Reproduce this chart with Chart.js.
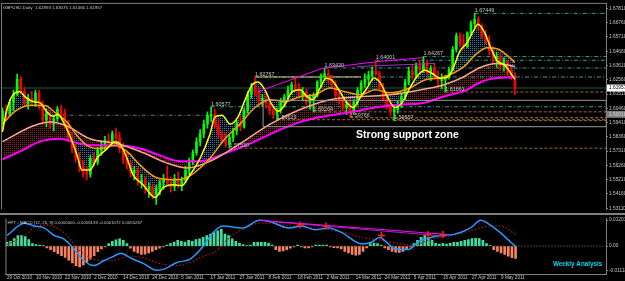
<!DOCTYPE html>
<html>
<head>
<meta charset="utf-8">
<script src="https://cdn.jsdelivr.net/npm/chart.js@4.4.1/dist/chart.umd.min.js"></script>
<style>
  html, body { margin: 0; padding: 0; background: #000; }
  #wrap { position: relative; width: 625px; height: 281px; background: #000; overflow: hidden; }
  #price { position: absolute; left: 0; top: 0; }
  #macd { position: absolute; left: 0; top: 213px; }
</style>
</head>
<body>
<div id="wrap">
  <canvas id="price" width="625" height="213"></canvas>
  <canvas id="macd" width="625" height="68"></canvas>
</div>
<script>
/* GBPUSD daily + HPT MACD (bar index 0 = 29 Oct 2010). */

const dateLabels = ['29 Oct 2010', '10 Nov 2010', '22 Nov 2010', '2 Dec 2010', '14 Dec 2010', '24 Dec 2010',
  '5 Jan 2011', '17 Jan 2011', '27 Jan 2011', '8 Feb 2011', '18 Feb 2011', '2 Mar 2011', '14 Mar 2011',
  '24 Mar 2011', '5 Apr 2011', '15 Apr 2011', '27 Apr 2011', '9 May 2011'];
const dateIdx = [0, 8, 16, 24, 32, 40, 48, 56, 64, 72, 80, 88, 96, 104, 112, 120, 128, 136];

const priceTicks = [1.67810, 1.66760, 1.65710, 1.64660, 1.63610, 1.62560, 1.61510, 1.60460,
  1.59410, 1.58360, 1.57310, 1.56260, 1.55210, 1.54160, 1.53110];
const macdTicks = [0.01201, 0, -0.01118];

const opens = [
  1.5910, 1.6030, 1.6010, 1.6090, 1.6150, 1.6260, 1.6170, 1.6080, 1.6120, 1.6100,
  1.6160, 1.6060, 1.5960, 1.6010, 1.5930, 1.5970, 1.6040, 1.6010, 1.5920, 1.5830,
  1.5750, 1.5680, 1.5620, 1.5580, 1.5560, 1.5680, 1.5650, 1.5740, 1.5770, 1.5810,
  1.5790, 1.5860, 1.5830, 1.5750, 1.5670, 1.5640, 1.5570, 1.5590, 1.5500, 1.5520,
  1.5450, 1.5470, 1.5410, 1.5460, 1.5500, 1.5530, 1.5500, 1.5470, 1.5530, 1.5490,
  1.5520, 1.5590, 1.5660, 1.5720, 1.5800, 1.5860, 1.5930, 1.5990, 1.6000, 1.5920,
  1.5850, 1.5810, 1.5780, 1.5830, 1.5880, 1.5940, 1.5910, 1.6030, 1.6150, 1.6200,
  1.6170, 1.6100, 1.6120, 1.6080, 1.6030, 1.6000, 1.6030, 1.6090, 1.6130, 1.6180,
  1.6220, 1.6200, 1.6140, 1.6170, 1.6090, 1.6120, 1.6140, 1.6240, 1.6280, 1.6300,
  1.6260, 1.6220, 1.6140, 1.6110, 1.6050, 1.6080, 1.6020, 1.6090, 1.6180, 1.6230,
  1.6260, 1.6290, 1.6320, 1.6300, 1.6200, 1.6120, 1.6070, 1.6020, 1.6040, 1.6070,
  1.6130, 1.6240, 1.6320, 1.6290, 1.6360, 1.6330, 1.6380, 1.6310, 1.6340, 1.6280,
  1.6250, 1.6260, 1.6280, 1.6330, 1.6480, 1.6580, 1.6520, 1.6500, 1.6600, 1.6670,
  1.6700, 1.6650, 1.6580, 1.6540, 1.6470, 1.6410, 1.6430, 1.6360, 1.6390, 1.6320, 1.6289];
const highs = [
  1.6050, 1.6070, 1.6110, 1.6180, 1.6298, 1.6280, 1.6200, 1.6150, 1.6170, 1.6180,
  1.6180, 1.6100, 1.6040, 1.6030, 1.5990, 1.6060, 1.6070, 1.6040, 1.5960, 1.5870,
  1.5790, 1.5720, 1.5660, 1.5620, 1.5700, 1.5720, 1.5760, 1.5800, 1.5840, 1.5860,
  1.5880, 1.5900, 1.5870, 1.5790, 1.5720, 1.5660, 1.5620, 1.5610, 1.5560, 1.5540,
  1.5500, 1.5490, 1.5480, 1.5520, 1.5560, 1.5620, 1.5540, 1.5560, 1.5580, 1.5540,
  1.5620, 1.5680, 1.5740, 1.5830, 1.5890, 1.5960, 1.6020, 1.6058, 1.6040, 1.5970,
  1.5880, 1.5860, 1.5850, 1.5900, 1.5960, 1.5990, 1.6050, 1.6170, 1.6230, 1.6277,
  1.6200, 1.6150, 1.6160, 1.6110, 1.6070, 1.6050, 1.6120, 1.6150, 1.6210, 1.6240,
  1.6270, 1.6230, 1.6200, 1.6190, 1.6150, 1.6160, 1.6250, 1.6300, 1.6343, 1.6330,
  1.6290, 1.6250, 1.6190, 1.6130, 1.6100, 1.6110, 1.6110, 1.6200, 1.6250, 1.6300,
  1.6320, 1.6350, 1.6400, 1.6320, 1.6230, 1.6160, 1.6110, 1.6060, 1.6100, 1.6150,
  1.6260, 1.6350, 1.6370, 1.6380, 1.6400, 1.6427, 1.6400, 1.6360, 1.6370, 1.6320,
  1.6300, 1.6290, 1.6350, 1.6500, 1.6600, 1.6600, 1.6590, 1.6610, 1.6690, 1.6745,
  1.6720, 1.6670, 1.6620, 1.6580, 1.6500, 1.6460, 1.6450, 1.6420, 1.6400, 1.6360, 1.6308];
const lows = [
  1.5890, 1.5960, 1.5990, 1.6030, 1.6140, 1.6150, 1.6060, 1.6040, 1.6070, 1.6060,
  1.6040, 1.5930, 1.5910, 1.5900, 1.5880, 1.5950, 1.5990, 1.5900, 1.5800, 1.5720,
  1.5650, 1.5580, 1.5540, 1.5520, 1.5540, 1.5620, 1.5630, 1.5700, 1.5740, 1.5760,
  1.5770, 1.5800, 1.5720, 1.5640, 1.5600, 1.5540, 1.5520, 1.5480, 1.5460, 1.5420,
  1.5390, 1.5380, 1.5340, 1.5410, 1.5450, 1.5490, 1.5430, 1.5440, 1.5460, 1.5440,
  1.5500, 1.5560, 1.5630, 1.5700, 1.5770, 1.5830, 1.5900, 1.5950, 1.5900, 1.5830,
  1.5790, 1.5760, 1.5753, 1.5800, 1.5850, 1.5880, 1.5900, 1.6010, 1.6120, 1.6140,
  1.6070, 1.6060, 1.6050, 1.6000, 1.5970, 1.5962, 1.6010, 1.6060, 1.6100, 1.6150,
  1.6170, 1.6120, 1.6100, 1.6070, 1.6040, 1.6020, 1.6130, 1.6200, 1.6250, 1.6230,
  1.6190, 1.6120, 1.6080, 1.6030, 1.6000, 1.5977, 1.6000, 1.6070, 1.6150, 1.6200,
  1.6220, 1.6250, 1.6290, 1.6180, 1.6100, 1.6040, 1.5990, 1.5956, 1.6010, 1.6050,
  1.6110, 1.6220, 1.6260, 1.6270, 1.6300, 1.6310, 1.6290, 1.6250, 1.6260, 1.6200,
  1.6190, 1.6166, 1.6260, 1.6320, 1.6460, 1.6500, 1.6480, 1.6490, 1.6580, 1.6640,
  1.6620, 1.6560, 1.6520, 1.6440, 1.6380, 1.6350, 1.6330, 1.6320, 1.6290, 1.6260, 1.6147];
const closes = [
  1.6030, 1.6010, 1.6090, 1.6150, 1.6260, 1.6170, 1.6080, 1.6120, 1.6100, 1.6160,
  1.6060, 1.5960, 1.6010, 1.5930, 1.5970, 1.6040, 1.6010, 1.5920, 1.5830, 1.5750,
  1.5680, 1.5620, 1.5580, 1.5560, 1.5680, 1.5650, 1.5740, 1.5770, 1.5810, 1.5790,
  1.5860, 1.5830, 1.5750, 1.5670, 1.5640, 1.5570, 1.5590, 1.5500, 1.5520, 1.5450,
  1.5470, 1.5410, 1.5460, 1.5500, 1.5530, 1.5500, 1.5470, 1.5530, 1.5490, 1.5520,
  1.5590, 1.5660, 1.5720, 1.5800, 1.5860, 1.5930, 1.5990, 1.6000, 1.5920, 1.5850,
  1.5810, 1.5780, 1.5830, 1.5880, 1.5940, 1.5910, 1.6030, 1.6150, 1.6200, 1.6170,
  1.6100, 1.6120, 1.6080, 1.6030, 1.6000, 1.6030, 1.6090, 1.6130, 1.6180, 1.6220,
  1.6200, 1.6140, 1.6170, 1.6090, 1.6120, 1.6140, 1.6240, 1.6280, 1.6300, 1.6260,
  1.6220, 1.6140, 1.6110, 1.6050, 1.6080, 1.6020, 1.6090, 1.6180, 1.6230, 1.6260,
  1.6290, 1.6320, 1.6300, 1.6200, 1.6120, 1.6070, 1.6020, 1.6040, 1.6070, 1.6130,
  1.6240, 1.6320, 1.6290, 1.6360, 1.6330, 1.6380, 1.6310, 1.6340, 1.6280, 1.6250,
  1.6260, 1.6280, 1.6330, 1.6480, 1.6580, 1.6520, 1.6500, 1.6600, 1.6670, 1.6700,
  1.6650, 1.6580, 1.6540, 1.6470, 1.6410, 1.6430, 1.6360, 1.6390, 1.6320, 1.6289, 1.6196];

// moving-average curves, sampled where they could be read (bar index -> price)
const yellowIdx = [0, 1.2, 3.4, 4.8, 6.1, 8.3, 10.2, 12.2, 13.8, 15.2, 16.5, 18.4, 20.4, 21.7, 23.9, 25.8, 28.6,
  30.7, 32.1, 34, 35.7, 38.4, 41.7, 43.9, 46.6, 49, 51.2, 54, 56.7, 58, 60, 62.2, 64.3, 66.3, 68.2, 69.8,
  71.7, 73.6, 75.3, 77.2, 79.1, 81.3, 83.2, 84.8, 86.8, 88.4, 90, 92.2, 94.1, 95.8, 97.7, 99.6, 101.5,
  103.1, 105.3, 107.2, 109.2, 111.3, 113.5, 115.4, 117.3, 119.5, 121.5, 123.1, 125, 126.9, 128.6, 129.9,
  131.8, 133.2, 135.1, 137.3, 139.2, 140];
const yellowVal = [1.5873, 1.6038, 1.6160, 1.6168, 1.6132, 1.6096, 1.6088, 1.6017, 1.5988, 1.6002, 1.5952,
  1.5844, 1.5700, 1.5592, 1.5592, 1.5679, 1.5750, 1.5801, 1.5786, 1.5679, 1.5556, 1.5484, 1.5391, 1.5463,
  1.5484, 1.5477, 1.5556, 1.5679, 1.5858, 1.5981, 1.5995, 1.5930, 1.5981, 1.6110, 1.6218, 1.6239, 1.6182,
  1.6074, 1.6024, 1.6074, 1.6168, 1.6182, 1.6132, 1.6110, 1.6196, 1.6268, 1.6254, 1.6168, 1.6088, 1.6052,
  1.6124, 1.6196, 1.6268, 1.6239, 1.6124, 1.6052, 1.6088, 1.6196, 1.6290, 1.6326, 1.6304, 1.6268, 1.6275,
  1.6340, 1.6469, 1.6527, 1.6613, 1.6664, 1.6599, 1.6505, 1.6398, 1.6362, 1.6290, 1.6260];
const orangeIdx = [0, 3.4, 7.5, 11.6, 14.3, 17.6, 20.4, 23.1, 26.6, 30.7, 34, 37.6, 42.2, 47.7, 51.2, 54, 56.7,
  60.8, 64.9, 69, 73.1, 77.2, 81.3, 85.4, 89.5, 93.6, 97.7, 101.8, 105.9, 111.3, 115.4, 120.4, 125.8, 129.6,
  132.4, 135.1, 138.6, 140];
const orangeVal = [1.5930, 1.6024, 1.6067, 1.6067, 1.6017, 1.5945, 1.5844, 1.5772, 1.5750, 1.5772, 1.5729,
  1.5628, 1.5535, 1.5520, 1.5549, 1.5607, 1.5679, 1.5822, 1.5930, 1.6052, 1.6110, 1.6096, 1.6132, 1.6146,
  1.6196, 1.6168, 1.6146, 1.6182, 1.6160, 1.6196, 1.6254, 1.6275, 1.6347, 1.6448, 1.6491, 1.6484, 1.6419, 1.6383];
const salmonIdx = [0, 8.3, 13, 17.6, 23.9, 31.3, 37.6, 45, 50.4, 56.7, 64.9, 73.1, 81.3, 89.5, 97.7, 105.9,
  114.1, 120.4, 125.8, 130.5, 135.1, 140];
const salmonVal = [1.5801, 1.5916, 1.5945, 1.5916, 1.5822, 1.5786, 1.5729, 1.5643, 1.5607, 1.5657, 1.5786,
  1.5930, 1.6038, 1.6110, 1.6132, 1.6146, 1.6182, 1.6218, 1.6275, 1.6347, 1.6376, 1.6354];
const magentaIdx = [0, 4.8, 10.2, 15.7, 21.2, 26.6, 32.1, 37.6, 43, 48.5, 54, 60.8, 67.6, 74.5, 81.3, 88.1,
  94.9, 101.8, 108.6, 114.1, 120.4, 126.9, 129.6, 133.2, 140];
const magentaVal = [1.5671, 1.5729, 1.5801, 1.5822, 1.5786, 1.5772, 1.5772, 1.5750, 1.5700, 1.5657, 1.5657,
  1.5715, 1.5786, 1.5873, 1.5945, 1.5988, 1.6017, 1.6052, 1.6074, 1.6081, 1.6132, 1.6182, 1.6225, 1.6261, 1.6275];

// zigzag swing labels and their horizontal levels
const swingText = ['1.60577', '1.57530', '1.62767', '1.59623', '1.60204', '1.63430', '1.59766', '1.64001',
  '1.59557', '1.64267', '1.61661', '1.67449'];
const swingIdx = [57, 62, 69, 75, 85, 88, 95, 102, 107, 115, 121, 129];
const swingVal = [1.60577, 1.57530, 1.62767, 1.59623, 1.60204, 1.63430, 1.59766, 1.64001, 1.59557, 1.64267,
  1.61661, 1.67449];
const swingIsHigh = [1, 0, 1, 0, 0, 1, 0, 1, 0, 1, 0, 1];

// hand-drawn objects
const trendAIdx = [69.8, 87.3, 102.6, 114.9];
const trendAVal = [1.6168, 1.6340, 1.6390, 1.6419];
const trendBIdx = [96.9, 118.2];
const trendBVal = [1.6354, 1.6376];
const boxIdx = [71.2, 165, 165, 71.2, 71.2];
const boxVal = [1.6105, 1.6105, 1.5911, 1.5911, 1.6105];
const oldLevelIdx = [11, 57];
const oldLevelVal = [1.5995, 1.5995];
const bidPrice = 1.61957;

// MACD window
const macdHist = [
  0.0017, 0.0022, 0.0035, 0.0048, 0.0048, 0.0044, 0.0030, 0.0011, 0.0007, 0.0004,
  0.0002, -0.0009, -0.0017, -0.0026, -0.0035, -0.0044, -0.0052, -0.0065, -0.0078, -0.0091,
  -0.0096, -0.0087, -0.0074, -0.0061, -0.0044, -0.0026, -0.0013, -0.0004, 0.0011, 0.0022,
  0.0029, 0.0033, 0.0026, 0.0011, -0.0010, -0.0025, -0.0032, -0.0039, -0.0037, -0.0032,
  -0.0025, -0.0017, -0.0010, -0.0004, 0.0004, 0.0011, 0.0019, 0.0026, 0.0022, 0.0019,
  0.0026, 0.0022, 0.0030, 0.0033, 0.0040, 0.0048, 0.0055, 0.0062, 0.0070, 0.0077,
  0.0055, 0.0048, 0.0033, 0.0022, 0.0013, 0.0007, 0.0002, 0.0004, 0.0017, 0.0017,
  0.0017, 0.0017, 0.0013, 0.0004, -0.0017, -0.0025, -0.0022, -0.0017, -0.0010, -0.0004,
  0.0004, -0.0004, -0.0009, -0.0009, -0.0004, 0.0004, 0.0004, 0.0004, 0.0004, -0.0004,
  -0.0007, -0.0009, -0.0013, -0.0025, -0.0032, -0.0039, -0.0042, -0.0039, -0.0025, -0.0009,
  0.0011, 0.0014, 0.0011, 0.0004, -0.0009, -0.0017, -0.0025, -0.0028, -0.0029, -0.0025,
  -0.0017, -0.0004, 0.0011, 0.0026, 0.0040, 0.0048, 0.0040, 0.0026, 0.0013, 0.0009,
  0.0013, 0.0009, 0.0013, 0.0017, 0.0017, 0.0022, 0.0026, 0.0030, 0.0035, 0.0036,
  0.0035, 0.0026, 0.0011, 0.0002, -0.0017, -0.0025, -0.0032, -0.0039, -0.0047, -0.0054, -0.0057];
const macdIdx = [0, 4.8, 7.5, 10.2, 13, 15.7, 18.4, 21.2, 23.9, 26.6, 29.4, 31.3, 34, 37.6, 41.1, 43.8, 46.6,
  50.4, 53.9, 56.7, 59.4, 64.9, 69.5, 72.2, 77.6, 81.2, 84.8, 88.6, 92.2, 97.6, 100.4, 102.5, 105, 106.6,
  110.4, 113.2, 114.8, 119.5, 123, 127.6, 130.4, 133.1, 135.8, 138.6, 140];
const macdVal = [0.0049, 0.0106, 0.0093, 0.0084, 0.0049, 0.0032, -0.0012, -0.0068, -0.0090, -0.0068, -0.0047,
  -0.0033, -0.0055, -0.0081, -0.0112, -0.0103, -0.0077, -0.0060, -0.0003, 0.0062, 0.0093, 0.0084, 0.0119,
  0.0114, 0.0084, 0.0093, 0.0075, 0.0084, 0.0062, 0.0010, 0.0019, 0.0040, 0.0010, -0.0012, -0.0016, 0.0019,
  0.0032, 0.0049, 0.0054, 0.0084, 0.0119, 0.0097, 0.0062, 0.0019, -0.0001];
const signalIdx = [0, 4.8, 8.3, 11, 15.7, 20.3, 23.9, 28.5, 34, 37.6, 42.2, 46.6, 50.4, 53.9, 57.5, 61.3, 65.7,
  69.5, 73, 77.6, 83.9, 88.6, 93, 97.6, 103, 108.5, 112.1, 116.7, 122.2, 127.6, 133.1, 135.8, 140];
const signalVal = [0.0006, 0.0049, 0.0093, 0.0097, 0.0062, -0.0025, -0.0060, -0.0068, -0.0047, -0.0055,
  -0.0081, -0.0090, -0.0077, -0.0047, -0.0025, 0.0040, 0.0084, 0.0106, 0.0106, 0.0093, 0.0084, 0.0075,
  0.0062, 0.0040, 0.0027, 0.0010, 0.0006, 0.0032, 0.0049, 0.0071, 0.0093, 0.0093, 0.0054];
const mTrendAIdx = [69.5, 120.8];
const mTrendAVal = [0.0119, 0.0054];
const mTrendBIdx = [72.2, 120.8];
const mTrendBVal = [0.0114, 0.0045];
const arrowIdx = [80.7, 87.8, 103.1, 115.9, 120];
const arrowVal = [0.0097, 0.0093, 0.0049, 0.0054, 0.0054];

// ---------------------------------------------------------------------------
const X_MIN = -0.41, X_MAX = 164.89;
const P_MIN = 1.53047, P_MAX = 1.68146;
const M_MIN = -0.01292, M_MAX = 0.01275;
const FONT = '"Liberation Sans", Arial, sans-serif';
const GRAY = '#808080', TXT = '#c8c8c8';
const TEAL = '#3a9e8c', BROWN = '#9a6838', ORANGE_LVL = '#c8823a';
const UP = '#00ff00', DOWN = '#ff0000';

const pts = (idx, vals) => idx.map((x, k) => ({ x, y: vals[k] }));
const bars = (a, b) => a.map((v, i) => ({ x: i, y: [a[i], b[i]] }));
const candleColor = (c) => (closes[c.dataIndex] >= opens[c.dataIndex] ? UP : DOWN);

/** Small repeating dot pattern used for the MT4-style cloud fills. */
function dots(color, w, h) {
  const c = document.createElement('canvas');
  c.width = w; c.height = h;
  const g = c.getContext('2d');
  g.fillStyle = color;
  g.fillRect(0, 0, 1, 1);
  return g.createPattern(c, 'repeat');
}

function line(data, color, width, extra) {
  return { type: 'line', data, borderColor: color, borderWidth: width, pointRadius: 0, fill: false, ...extra };
}

function level(from, to, value, color, dash) {
  return line([{ x: from, y: value }, { x: to, y: value }], color, 1, { borderDash: dash || [4, 2, 1, 2], order: 20 });
}

/** Fixed-width price axis on the right, MT4 look. */
function rightAxis(min, max, ticks, fmt) {
  return {
    type: 'linear', position: 'right', min, max,
    afterBuildTicks: (s) => { s.ticks = ticks.map((v) => ({ value: v })); },
    afterFit: (s) => { s.width = 19; },
    grid: { display: true, drawOnChartArea: false, drawTicks: true, tickLength: 2, color: GRAY },
    border: { display: true, color: GRAY },
    ticks: { autoSkip: false, color: TXT, padding: 1, font: { size: 4.8, family: FONT }, callback: fmt }
  };
}

const cyanDots = dots('#1f7fb8', 2, 2);
const redDots = dots('#a01c1c', 2, 2);

const levelSets = swingIdx.map((i, k) => {
  const color = swingIsHigh[k] ? TEAL : (k === 6 ? ORANGE_LVL : BROWN);
  return level(i, X_MAX, swingVal[k], color, swingIsHigh[k] ? [4, 2, 1, 2] : [3, 2]);
});

const priceDecor = {
  id: 'priceDecor',
  beforeDraw(chart) {
    const { ctx } = chart;
    ctx.save();
    ctx.fillStyle = '#000';
    ctx.fillRect(0, 0, chart.width, chart.height);
    ctx.restore();
  },
  afterDraw(chart) {
    const { ctx, chartArea: a, scales: { x, y } } = chart;
    ctx.save();
    ctx.strokeStyle = GRAY;
    ctx.lineWidth = 1;
    ctx.beginPath();
    ctx.moveTo(a.left + 0.5, a.bottom);
    ctx.lineTo(a.left + 0.5, a.top - 0.5);
    ctx.lineTo(a.right, a.top - 0.5);
    ctx.stroke();

    ctx.fillStyle = TXT;
    ctx.font = '4.4px ' + FONT;
    ctx.textBaseline = 'middle';
    ctx.fillText('GBPUSD,Daily  1.62893 1.63075 1.61466 1.61957', a.left + 2, a.top + 4);

    ctx.font = '5.4px ' + FONT;
    ctx.textBaseline = 'bottom';
    swingText.forEach((t, k) => ctx.fillText(t, x.getPixelForValue(swingIdx[k]), y.getPixelForValue(swingVal[k])));

    ctx.fillStyle = '#ffffff';
    ctx.font = 'bold 10.5px ' + FONT;
    ctx.textBaseline = 'middle';
    ctx.fillText('Strong support zone', x.getPixelForValue(96.6), y.getPixelForValue(1.5848));

    // bid / object price tags on the axis
    const tag = (v, bg, fg, txt) => {
      const py = y.getPixelForValue(v);
      ctx.fillStyle = bg;
      ctx.fillRect(a.right + 1, py - 3.5, 24, 7);
      ctx.fillStyle = fg;
      ctx.font = '4.8px ' + FONT;
      ctx.fillText(txt, a.right + 3, py);
    };
    tag(bidPrice, '#ffffff', '#000000', '1.61957');
    tag(1.6002, '#808080', '#d0d0d0', '1.60018');
    ctx.restore();
  }
};

const xAxisBase = { type: 'linear', min: X_MIN, max: X_MAX, offset: false };

new Chart(document.getElementById('price'), {
  type: 'line',
  data: {
    datasets: [
      line(pts(yellowIdx, yellowVal), '#ffff00', 1.5, { cubicInterpolationMode: 'monotone', order: 2,
        fill: { target: 1, above: cyanDots, below: cyanDots } }),
      line(pts(orangeIdx, orangeVal), '#ff9a00', 1.5, { cubicInterpolationMode: 'monotone', order: 3 }),
      line(pts(salmonIdx, salmonVal), '#ffa58a', 1.5, { cubicInterpolationMode: 'monotone', order: 4,
        fill: { target: 3, above: redDots, below: redDots } }),
      line(pts(magentaIdx, magentaVal), '#ff00ff', 2, { cubicInterpolationMode: 'monotone', order: 5 }),
      { type: 'bar', data: bars(lows, highs), backgroundColor: candleColor, barThickness: 1, grouped: false, order: 8 },
      { type: 'bar', data: bars(opens, closes), backgroundColor: candleColor, barThickness: 2, grouped: false, order: 7, minBarLength: 1 },
      level(X_MIN, X_MAX, bidPrice, '#1d5c3a', []),
      ...levelSets,
      level(oldLevelIdx[0], oldLevelIdx[1], oldLevelVal[0], '#6e6e6e'),
      line(pts([69, 98], [1.62767, 1.62767]), '#d8c870', 1, { order: 19 }),
      line(pts(boxIdx, boxVal), '#9a9a9a', 1, { order: 1 }),
      line(pts(trendAIdx, trendAVal), '#ff00ff', 1, { order: 1 }),
      line(pts(trendBIdx, trendBVal), '#a030c0', 1, { order: 1 })
    ]
  },
  options: {
    responsive: false, animation: false, events: [],
    layout: { padding: { top: 2, bottom: 1, left: 1, right: 0 } },
    plugins: { legend: { display: false }, tooltip: { enabled: false }, filler: { drawTime: 'beforeDatasetsDraw' } },
    scales: {
      x: { ...xAxisBase, display: false, grid: { offset: false } },
      y: rightAxis(P_MIN, P_MAX, priceTicks, (v) => v.toFixed(5))
    }
  },
  plugins: [priceDecor]
});

const macdDecor = {
  id: 'macdDecor',
  beforeDraw(chart) {
    const { ctx } = chart;
    ctx.save();
    ctx.fillStyle = '#000';
    ctx.fillRect(0, 0, chart.width, chart.height);
    ctx.restore();
  },
  afterDraw(chart) {
    const { ctx, chartArea: a } = chart;
    ctx.save();
    ctx.fillStyle = GRAY;
    ctx.fillRect(0, 0, chart.width, 2);
    ctx.strokeStyle = GRAY;
    ctx.beginPath();
    ctx.moveTo(a.left + 0.5, a.top);
    ctx.lineTo(a.left + 0.5, a.bottom);
    ctx.stroke();
    ctx.fillStyle = TXT;
    ctx.font = '4.3px ' + FONT;
    ctx.textBaseline = 'middle';
    ctx.fillText('HPT - MACD (12, 26, 9) 0.0000000 -0.0056139 -0.0001072 0.0055267', a.left + 2, a.top + 4);
    ctx.fillStyle = '#00d8f0';
    ctx.font = 'bold 6.3px ' + FONT;
    ctx.fillText('Weekly Analysis', 553, 51);
    ctx.restore();
  }
};

new Chart(document.getElementById('macd'), {
  type: 'line',
  data: {
    datasets: [
      { type: 'bar', data: macdHist.map((v, i) => ({ x: i, y: v })), barThickness: 2, order: 9,
        backgroundColor: (c) => (macdHist[c.dataIndex] >= 0 ? '#3ee0a0' : '#f7835f') },
      line(pts([X_MIN, X_MAX], [0, 0]), '#8a7a40', 1, { borderDash: [1, 2], order: 8 }),
      line(pts(signalIdx, signalVal), '#b01818', 1.2, { borderDash: [1.5, 2], cubicInterpolationMode: 'monotone', order: 3 }),
      line(pts(macdIdx, macdVal), '#2a96ff', 1.5, { cubicInterpolationMode: 'monotone', order: 2 }),
      line(pts(mTrendAIdx, mTrendAVal), '#ff00ff', 1, { order: 1 }),
      line(pts(mTrendBIdx, mTrendBVal), '#9a2aa8', 1, { order: 1 }),
      { type: 'line', data: pts(arrowIdx, arrowVal), showLine: false, pointStyle: 'cross', pointRadius: 3.5,
        pointBorderWidth: 1.5, pointBorderColor: '#ff2020', order: 0 }
    ]
  },
  options: {
    responsive: false, animation: false, events: [],
    layout: { padding: { top: 2, bottom: 0, left: 1, right: 0 } },
    plugins: { legend: { display: false }, tooltip: { enabled: false } },
    scales: {
      x: {
        ...xAxisBase,
        afterBuildTicks: (s) => { s.ticks = dateIdx.map((v) => ({ value: v })); },
        afterFit: (s) => { s.height = 7; },
        grid: { display: true, offset: false, drawOnChartArea: false, drawTicks: true, tickLength: 1, color: GRAY },
        border: { display: true, color: GRAY },
        ticks: { autoSkip: false, maxRotation: 0, align: 'start', padding: 0, color: TXT,
          font: { size: 4.6, family: FONT }, callback: (v) => dateLabels[dateIdx.indexOf(v)] }
      },
      y: rightAxis(M_MIN, M_MAX, macdTicks, (v) => (v === 0 ? '0.00' : v.toFixed(5)))
    }
  },
  plugins: [macdDecor]
});
</script>
</body>
</html>
